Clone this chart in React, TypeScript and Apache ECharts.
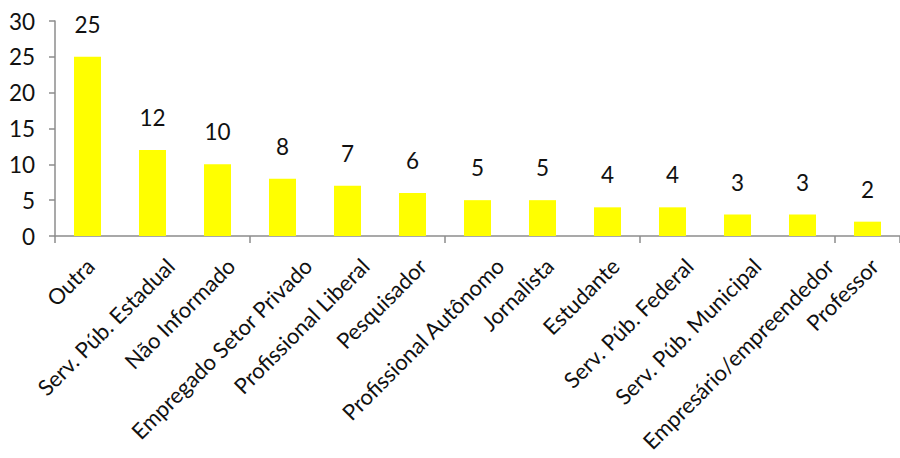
import React, { useEffect, useRef } from "react";
import * as echarts from "echarts";

const categories = [
  "Outra",
  "Serv. Púb. Estadual",
  "Não Informado",
  "Empregado Setor Privado",
  "Profissional Liberal",
  "Pesquisador",
  "Profissional Autônomo",
  "Jornalista",
  "Estudante",
  "Serv. Púb. Federal",
  "Serv. Púb. Municipal",
  "Empresário/empreendedor",
  "Professor",
];
const values = [25, 12, 10, 8, 7, 6, 5, 5, 4, 4, 3, 3, 2];
const yMin = 0;
const yMax = 30;
const yInterval = 5;

const FONT = "Lato";
const CAT_FONT_SIZE = 22;

function measure(text: string): number {
  const c = document.createElement("canvas");
  const ctx = c.getContext("2d");
  if (!ctx) return text.length * 10;
  ctx.font = `${CAT_FONT_SIZE}px ${FONT}`;
  return ctx.measureText(text).width;
}

export default function App() {
  const ref = useRef<HTMLDivElement>(null);
  useEffect(() => {
    if (!ref.current) return;
    const chart = echarts.init(ref.current, undefined, { renderer: "svg" });
    chart.setOption({
      animation: false,
      backgroundColor: "#ffffff",
      grid: { left: 55, top: 21, width: 850, height: 215, containLabel: false },
      xAxis: {
        type: "category",
        data: categories,
        boundaryGap: true,
        axisLine: { lineStyle: { color: "#8c8c8c", width: 1.5 } },
        axisTick: { show: true, length: 7, lineStyle: { color: "#8c8c8c", width: 1.5 } },
        axisLabel: { show: false },
      },
      yAxis: {
        type: "value",
        min: yMin,
        max: yMax,
        interval: yInterval,
        splitLine: { show: false },
        axisLine: { show: true, lineStyle: { color: "#8c8c8c", width: 1.5 } },
        axisTick: { show: true, length: 6, lineStyle: { color: "#8c8c8c", width: 1.5 } },
        axisLabel: { color: "#111", fontSize: 22.5, fontFamily: FONT, margin: 20 },
      },
      series: [
        {
          type: "bar",
          data: values,
          barWidth: 27,
          itemStyle: { color: "#ffff00" },
          label: {
            show: true,
            position: "top",
            distance: 21,
            color: "#111",
            fontSize: 22.5,
            fontFamily: FONT,
          },
        },
        {
          // rotated category labels, placed Excel-style (longer labels drift right)
          type: "custom",
          silent: true,
          clip: false,
          data: categories.map((_, i) => [i, 0]),
          encode: { x: 0, y: 1 },
          renderItem: (_params: any, api: any) => {
            const i = api.value(0);
            const p = api.coord([i, 0]);
            const name = categories[i];
            const L = measure(name);
            const shift = Math.max(0, 0.12 * L - 4);
            return {
              type: "text",
              x: p[0] + shift,
              y: p[1] + 26,
              rotation: Math.PI / 4,
              style: {
                text: name,
                align: "right",
                verticalAlign: "middle",
                fontSize: CAT_FONT_SIZE,
                fontFamily: FONT,
                fill: "#111",
              },
            };
          },
        },
      ],
    });
    return () => chart.dispose();
  }, []);
  return (
    <div
      ref={ref}
      style={{ position: "absolute", left: 0, top: 0, width: 900, height: 458 }}
    />
  );
}
